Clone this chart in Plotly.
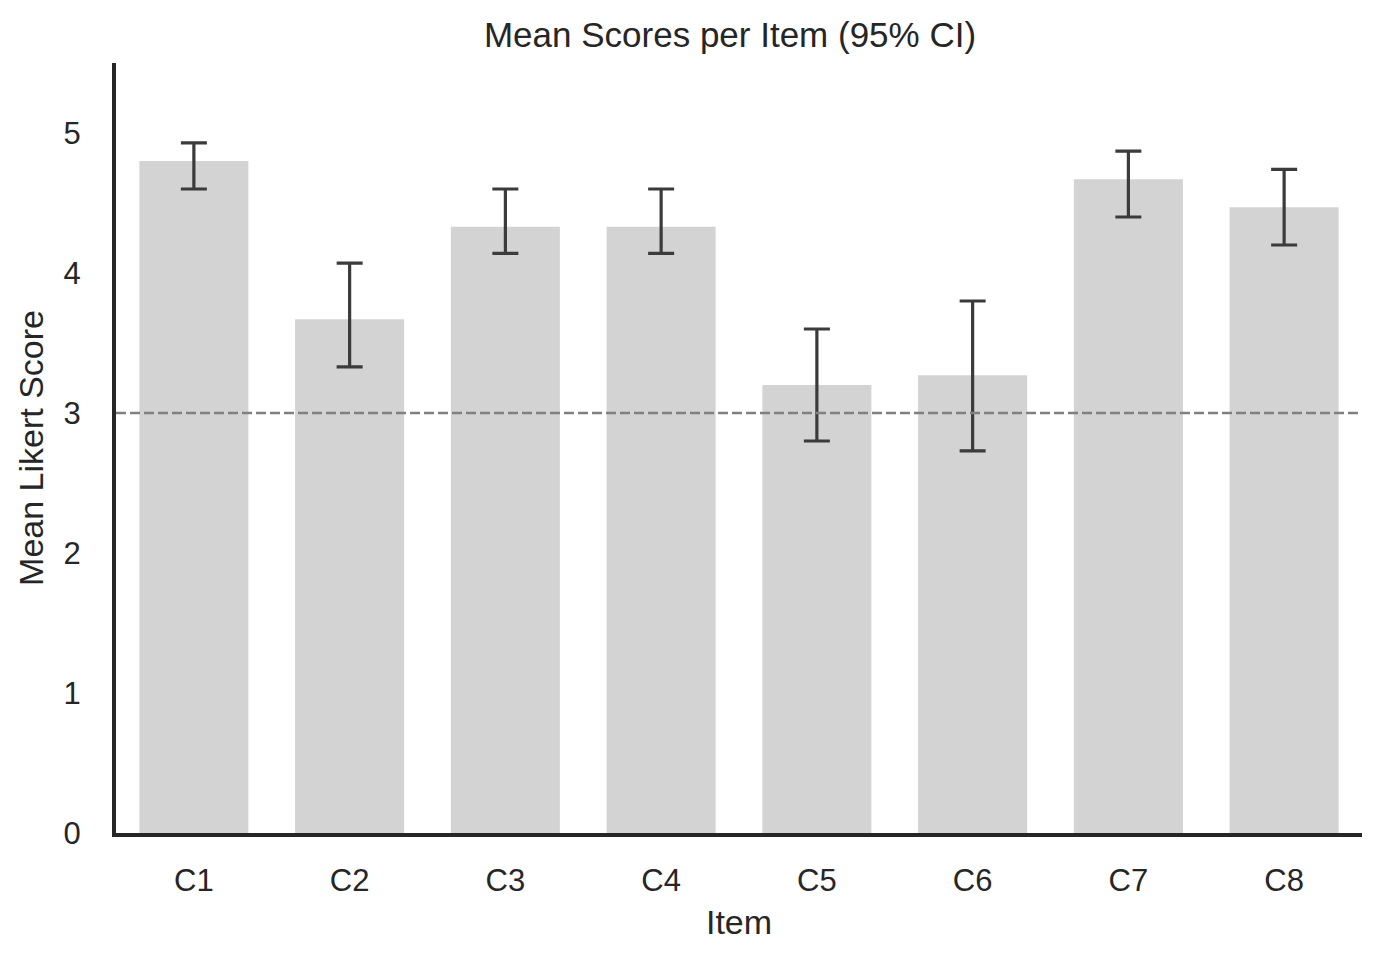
import plotly.graph_objects as go

items = ["C1", "C2", "C3", "C4", "C5", "C6", "C7", "C8"]
means = [4.80, 3.67, 4.33, 4.33, 3.20, 3.27, 4.67, 4.47]
ci_upper = [4.93, 4.07, 4.60, 4.60, 3.60, 3.80, 4.87, 4.74]
ci_lower = [4.60, 3.33, 4.14, 4.14, 2.80, 2.73, 4.40, 4.20]
neutral = 3
y_ticks = [0, 1, 2, 3, 4, 5]

err_plus = [u - m for u, m in zip(ci_upper, means)]
err_minus = [m - l for m, l in zip(means, ci_lower)]

FONT = "Liberation Sans, Arial, sans-serif"
TXT = "#262626"

fig = go.Figure()
fig.add_trace(go.Bar(
    x=items, y=means,
    marker=dict(color="#d3d3d3", line=dict(width=0)),
    error_y=dict(type="data", symmetric=False, array=err_plus, arrayminus=err_minus,
                 color="#3b3b3b", thickness=3.2, width=13),
    showlegend=False,
))
fig.add_hline(y=neutral, line=dict(color="#808080", width=2.7, dash="10px,4px"))

fig.update_layout(
    width=1380, height=961,
    margin=dict(l=116, r=18, t=63, b=128),
    paper_bgcolor="white", plot_bgcolor="white",
    bargap=0.3,
    font=dict(family=FONT, color=TXT),
    title=dict(text="Mean Scores per Item (95% CI)", x=0.529, xanchor="center",
               y=1 - 35 / 961, yanchor="middle", yref="container",
               font=dict(size=35, color=TXT, family=FONT)),
    xaxis=dict(
        title=dict(text="Item", font=dict(size=34), standoff=14),
        tickfont=dict(size=31), showline=True, linecolor="#262626", linewidth=4,
        showgrid=False, ticks="", ticklabelstandoff=17, zeroline=False,
    ),
    yaxis=dict(
        title=dict(text="Mean Likert Score", font=dict(size=34), standoff=11),
        tickfont=dict(size=31), showline=True, linecolor="#262626", linewidth=4,
        showgrid=False, ticks="", ticklabelstandoff=25, zeroline=False,
        range=[0, 5.5], tickvals=y_ticks,
    ),
)

fig.write_html("out.html", config={"displayModeBar": False},
               post_script="document.body.style.margin='0';")
